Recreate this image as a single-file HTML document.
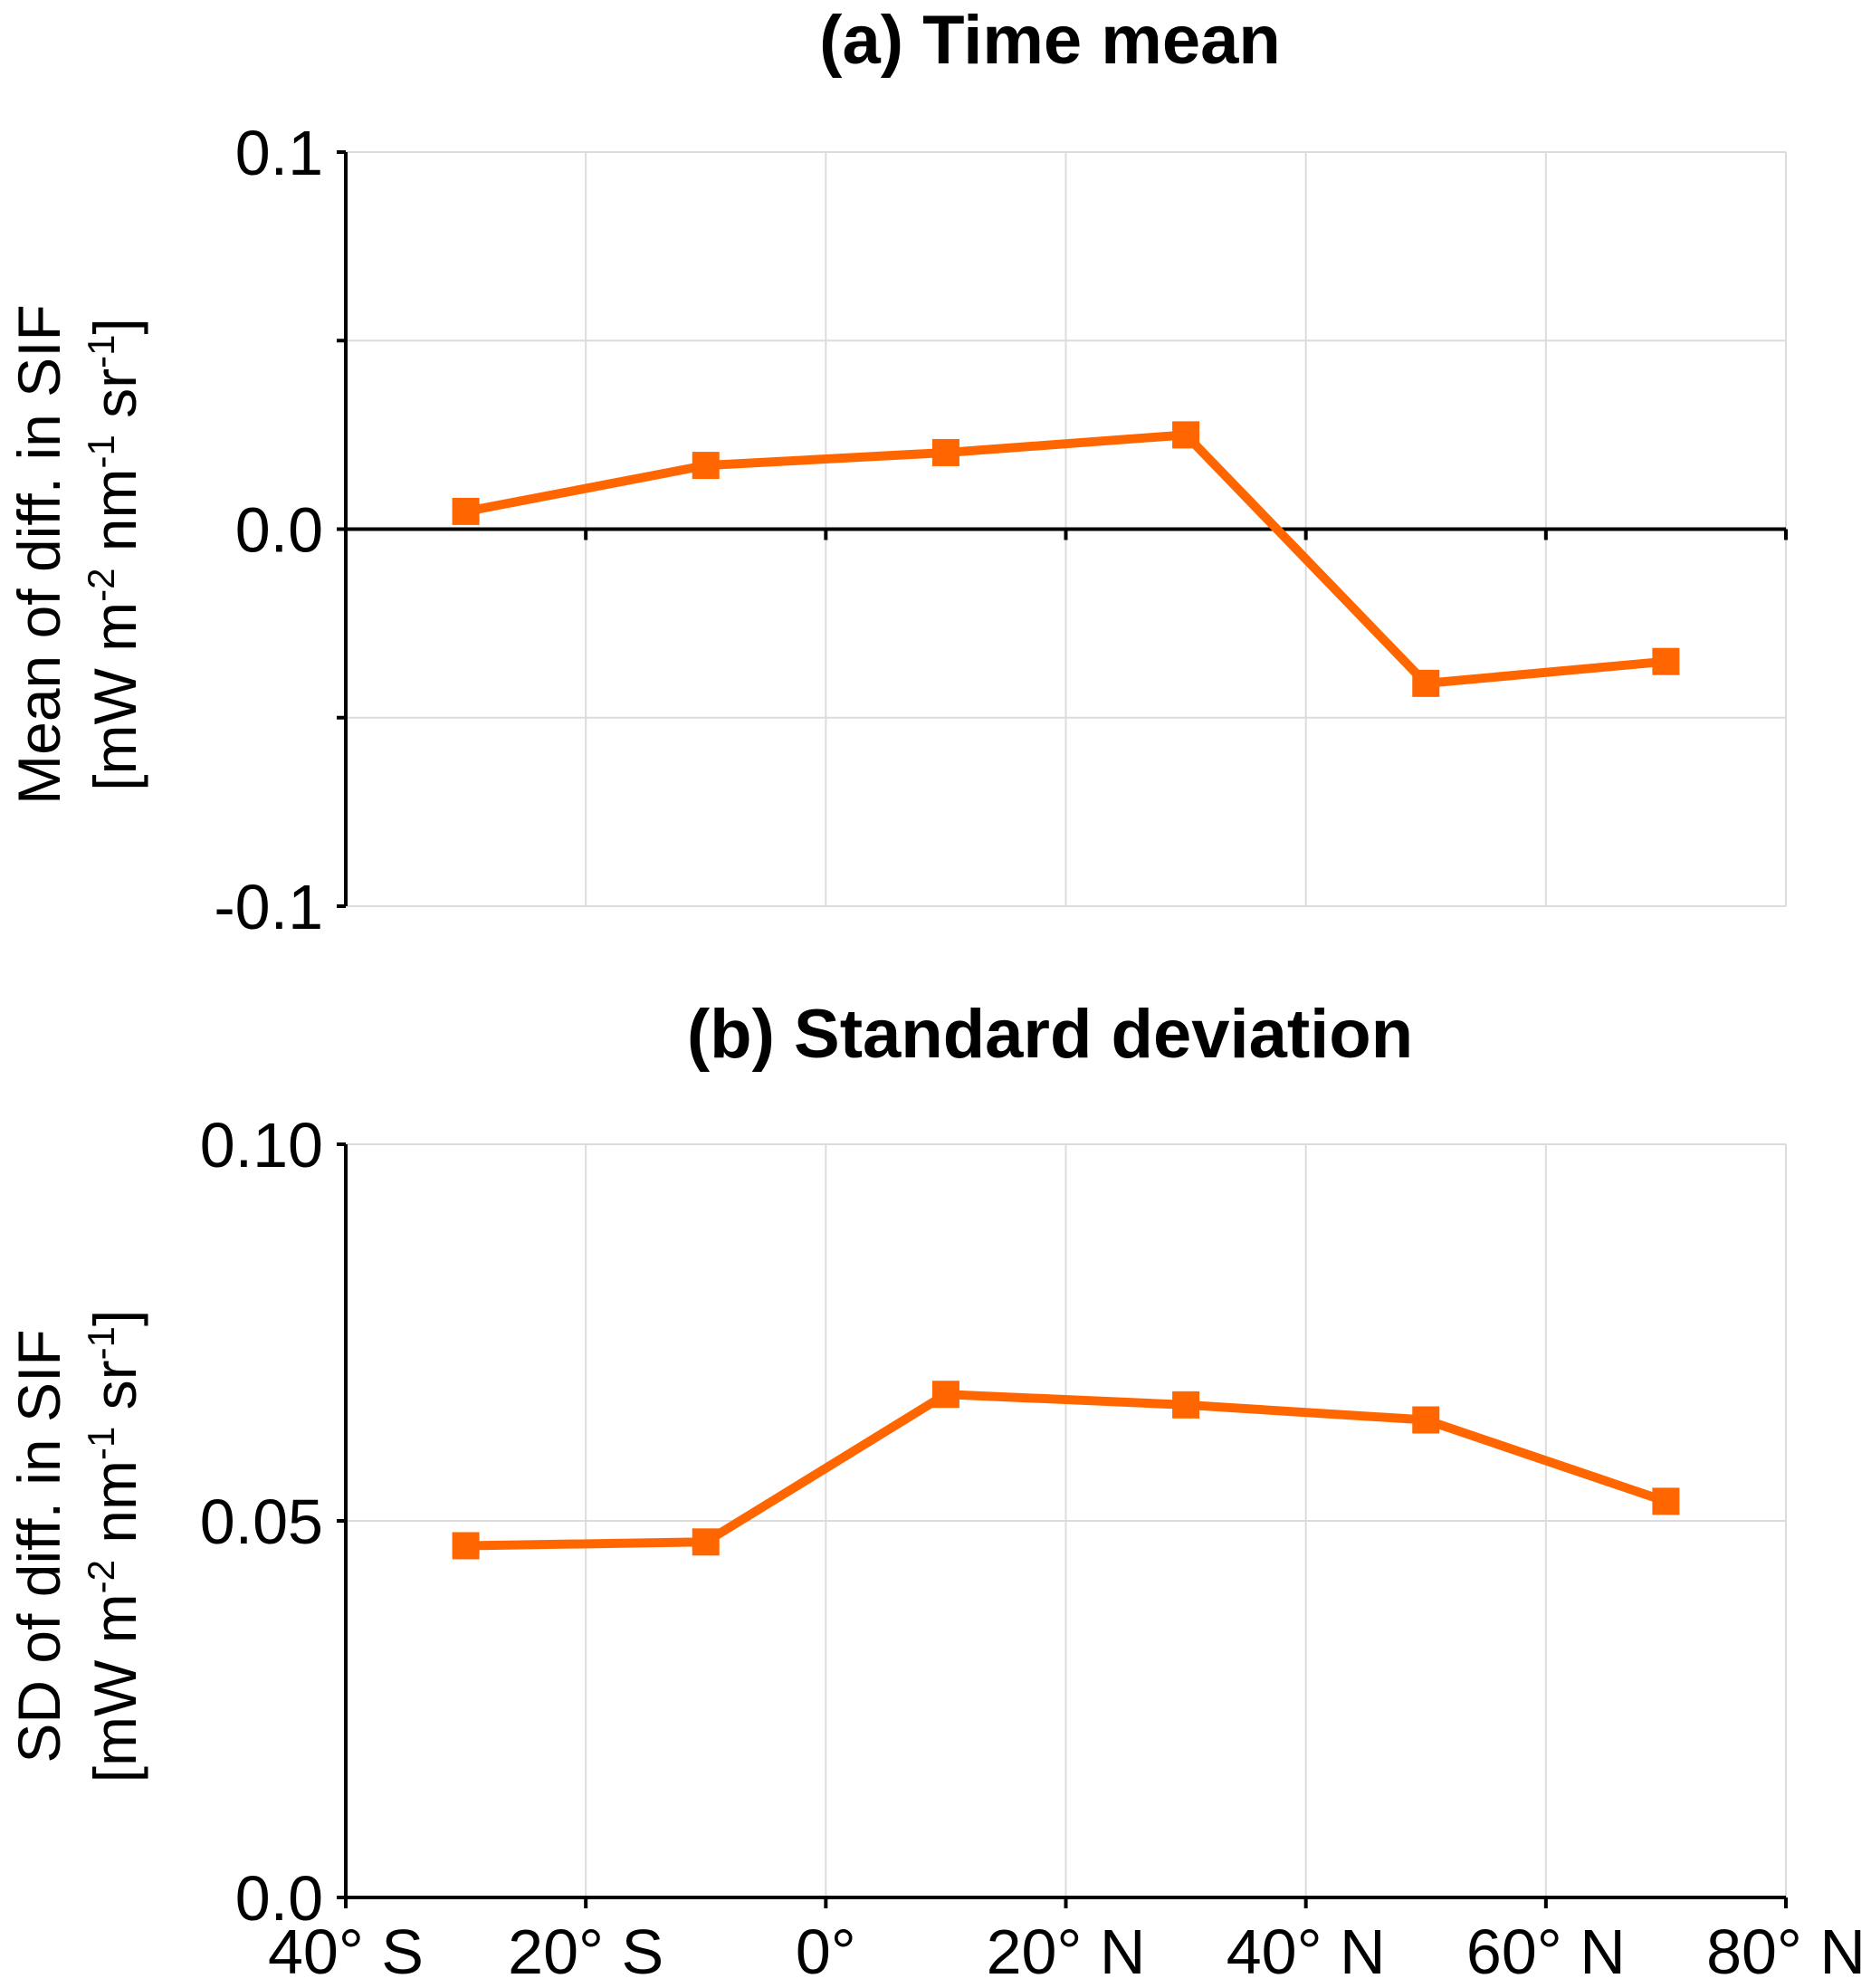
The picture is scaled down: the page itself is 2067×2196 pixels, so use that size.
<!DOCTYPE html>
<html><head><meta charset="utf-8"><style>
html,body{margin:0;padding:0;background:#fff;}
svg{display:block;font-family:"Liberation Sans",Arial,sans-serif;}
</style></head><body>
<svg id="chart" width="2067" height="2196" viewBox="0 0 2067 2196"></svg>
<script>
const latitudes = [-30, -10, 10, 30, 50, 70];
const meanValues = [0.0047, 0.0169, 0.0203, 0.025, -0.0409, -0.0351];
const sdValues = [0.0467, 0.0472, 0.0668, 0.0654, 0.0634, 0.0526];
const xTickValues = [-40, -20, 0, 20, 40, 60, 80];
const xTickLabels = ["40° S", "20° S", "0°", "20° N", "40° N", "60° N", "80° N"];
const meanTickValues = [-0.1, -0.05, 0, 0.05, 0.1];
const meanTickLabels = ["-0.1", "", "0.0", "", "0.1"];
const sdTickValues = [0, 0.05, 0.1];
const sdTickLabels = ["0.0", "0.05", "0.10"];

const NS = "http://www.w3.org/2000/svg";
const svg = document.getElementById("chart");
function mk(tag, attrs, parent) {
  const e = document.createElementNS(NS, tag);
  for (const k in attrs) e.setAttribute(k, attrs[k]);
  (parent || svg).appendChild(e);
  return e;
}
const X0 = 382, X1 = 1973;
function xs(v) { return X0 + (v + 40) / 120 * (X1 - X0); }

function panel(name, top, bottom, ymin, ymax, ticks, tickLabels, values, title, titleY, ylab1, showX) {
  const g = mk("g", {});
  
  
  const ys = v => bottom - (v - ymin) / (ymax - ymin) * (bottom - top);
  xTickValues.forEach((v, i) => {
    if (i === 0) return;
    const l = mk("line", {x1: xs(v), x2: xs(v), y1: top, y2: bottom, stroke: "#dcdcdc", "stroke-width": 2}, g);
    
    
  });
  ticks.forEach((v, i) => {
    const y = ys(v);
    const l = mk("line", {x1: X0, x2: X1, y1: y, y2: y, stroke: "#dcdcdc", "stroke-width": 2}, g);
    
    
    const t = mk("line", {x1: X0 - 10, x2: X0, y1: y, y2: y, stroke: "#000", "stroke-width": 4}, g);
    
    
    if (tickLabels[i]) {
      const tx = mk("text", {x: X0 - 25, y: y + 25, "text-anchor": "end", "font-size": 70}, g);
      tx.textContent = tickLabels[i];
      
      
    }
  });
  const ya = mk("line", {x1: X0, x2: X0, y1: top, y2: bottom, stroke: "#000", "stroke-width": 4}, g);
  
  
  const zy = ys(0);
  const xa = mk("line", {x1: X0, x2: X1, y1: zy, y2: zy, stroke: "#000", "stroke-width": 4}, g);
  
  
  xTickValues.forEach((v, i) => {
    const t = mk("line", {x1: xs(v), x2: xs(v), y1: zy, y2: zy + 12, stroke: "#000", "stroke-width": 4}, g);
    
    
    if (showX) {
      const tx = mk("text", {x: xs(v), y: 2180, "text-anchor": "middle", "font-size": 70}, g);
      tx.textContent = xTickLabels[i];
      
      
    }
  });
  const pts = latitudes.map((la, i) => xs(la) + "," + ys(values[i])).join(" ");
  const pl = mk("polyline", {points: pts, fill: "none", stroke: "#ff6600", "stroke-width": 10, "stroke-linejoin": "round"}, g);
  
  
  latitudes.forEach((la, i) => {
    const r = mk("rect", {x: xs(la) - 15, y: ys(values[i]) - 15, width: 30, height: 30, fill: "#ff6600"}, g);
    
    
  });
  const tt = mk("text", {x: 1160, y: titleY, "text-anchor": "middle", "font-size": 76, "font-weight": "bold"}, g);
  tt.textContent = title;
  
  
  const cy = (top + bottom) / 2 + 28;
  const yl = mk("text", {transform: "translate(66," + cy + ") rotate(-90)", "text-anchor": "middle", "font-size": 66}, g);
  yl.textContent = ylab1;
  
  
  const yl2 = mk("text", {transform: "translate(150," + cy + ") rotate(-90)", "text-anchor": "middle", "font-size": 66}, g);
  yl2.innerHTML = '[mW m<tspan dy="-24" font-size="42">-2</tspan><tspan dy="24"> nm</tspan><tspan dy="-24" font-size="42">-1</tspan><tspan dy="24"> sr</tspan><tspan dy="-24" font-size="42">-1</tspan><tspan dy="24">]</tspan>';
  
  
}
panel("panel-a-time-mean", 168, 1001, -0.1, 0.1, meanTickValues, meanTickLabels, meanValues,
  "(a) Time mean", 70, "Mean of diff. in SIF", false);
panel("panel-b-standard-deviation", 1264, 2096, 0, 0.1, sdTickValues, sdTickLabels, sdValues,
  "(b) Standard deviation", 1168, "SD of diff. in SIF", true);
</script>
</body></html>
